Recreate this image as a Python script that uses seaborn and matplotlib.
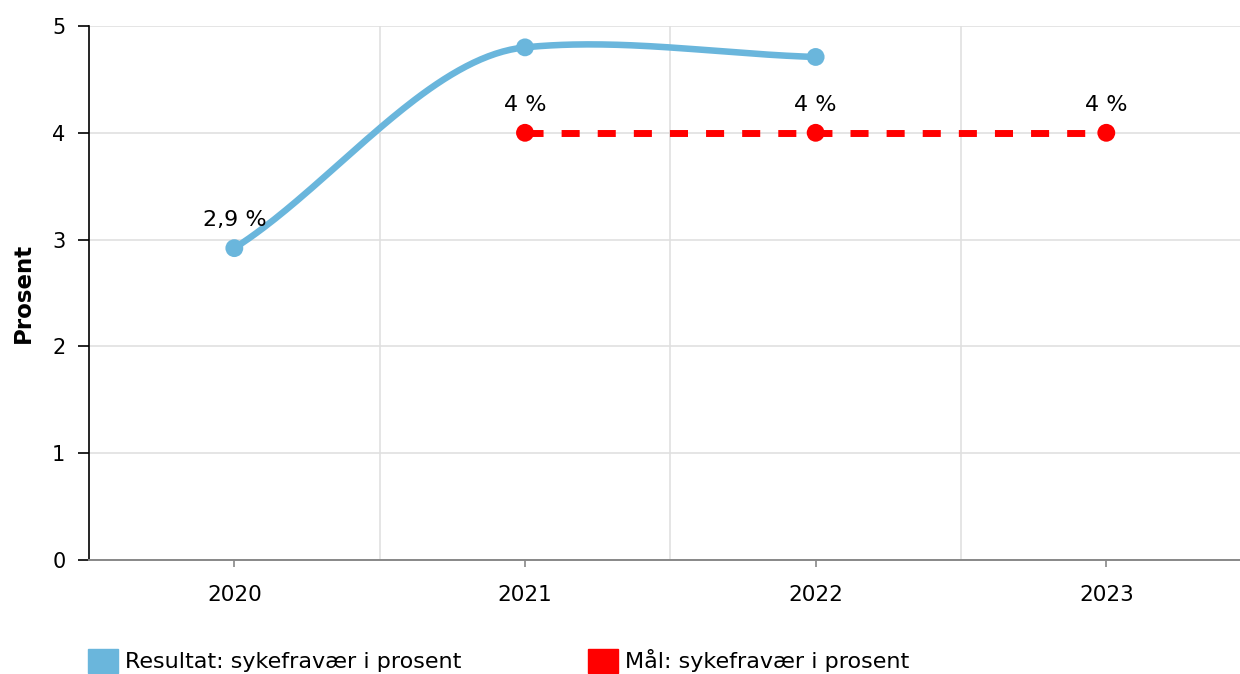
import numpy as np
import pandas as pd
import matplotlib
matplotlib.use("Agg")
import matplotlib.pyplot as plt
import seaborn as sns
from matplotlib.patches import Patch

# ---------------- data ----------------
years = ["2020", "2021", "2022", "2023"]
result_years = ["2020", "2021", "2022"]
result_values = [2.92, 4.80, 4.71]
result_labels = ["2,9 %", "", ""]
goal_years = ["2021", "2022", "2023"]
goal_values = [4.0, 4.0, 4.0]
goal_labels = ["4 %", "4 %", "4 %"]
y_ticks = [0, 1, 2, 3, 4, 5]
series_names = ["Resultat: sykefravær i prosent", "Mål: sykefravær i prosent"]
y_title = "Prosent"

BLUE = "#6ab6dc"
RED = "#ff0000"
GRID = "#e0e0e0"

sns.set_theme(style="white")
plt.rcParams["font.family"] = ["DejaVu Sans"]
plt.rcParams["text.color"] = "#000000"

W, H = 1240, 674
fig = plt.figure(figsize=(W / 100, H / 100), dpi=100)
ax = fig.add_axes([89 / W, 1 - 560 / H, 1 - 89 / W, (560 - 26) / H])

pos = {y: i for i, y in enumerate(years)}
rx = np.array([pos[y] for y in result_years], float)
ry = np.array(result_values, float)
gx = np.array([pos[y] for y in goal_years], float)
gy = np.array(goal_values, float)


def smooth_curve(x, y, tension=0.3, end_factor=0.92, n=80):
    """Cubic Hermite spline through the points (for drawing a smoothed line)."""
    m = np.zeros_like(y)
    m[1:-1] = tension * (y[2:] - y[:-2]) / (x[2:] - x[:-2])
    m[0] = end_factor * (y[1] - y[0]) / (x[1] - x[0])
    m[-1] = end_factor * (y[-1] - y[-2]) / (x[-1] - x[-2])
    xs, ys = [], []
    for i in range(len(x) - 1):
        h = x[i + 1] - x[i]
        t = np.linspace(0, 1, n)
        h00 = 2 * t**3 - 3 * t**2 + 1
        h10 = t**3 - 2 * t**2 + t
        h01 = -2 * t**3 + 3 * t**2
        h11 = t**3 - t**2
        xs.append(x[i] + t * h)
        ys.append(h00 * y[i] + h10 * h * m[i] + h01 * y[i + 1] + h11 * h * m[i + 1])
    return np.concatenate(xs), np.concatenate(ys)


cx, cy = smooth_curve(rx, ry)
curve = pd.DataFrame({"x": cx, "y": cy})
sns.lineplot(data=curve, x="x", y="y", sort=False, ax=ax, color=BLUE, lw=4.7,
             solid_capstyle="round", zorder=3)
sns.scatterplot(x=rx, y=ry, ax=ax, color=BLUE, s=165, edgecolor="none", zorder=4)

ax.plot(gx, gy, color=RED, lw=5, linestyle=(0, (2.6, 2.6)), zorder=3)
sns.scatterplot(x=gx, y=gy, ax=ax, color=RED, s=165, edgecolor="none", zorder=4)

for x, y, lab in zip(rx, ry, result_labels):
    if lab:
        ax.annotate(lab, (x, y), xytext=(0, 16), textcoords="offset points",
                    ha="center", va="baseline", fontsize=16, color="#000000")
for x, y, lab in zip(gx, gy, goal_labels):
    ax.annotate(lab, (x, y), xytext=(0, 16), textcoords="offset points",
                ha="center", va="baseline", fontsize=16, color="#000000")

# axes
ax.set_xlim(-0.5, 3.46)
ax.set_ylim(0, 5)
ax.set_yticks(y_ticks)
ax.set_yticklabels([str(v) for v in y_ticks])
ax.set_xticks(range(len(years)))
ax.set_xticklabels(years)
ax.set_xticks([0.5, 1.5, 2.5], minor=True)
ax.set_xlabel("")
ax.set_ylabel(y_title, fontsize=16.5, fontweight="bold", color="#000000")
ax.yaxis.set_label_coords((23 - 89) / (W - 89), 0.5)
ax.yaxis.label.set_va("center")

ax.grid(axis="y", which="major", color=GRID, lw=1.2)
ax.grid(axis="x", which="minor", color=GRID, lw=1.2)
ax.grid(axis="x", which="major", visible=False)
ax.set_axisbelow(True)

for s in ["top", "right"]:
    ax.spines[s].set_visible(False)
ax.spines["left"].set_color("#000000")
ax.spines["left"].set_linewidth(1.2)
ax.spines["bottom"].set_color("#888888")
ax.spines["bottom"].set_linewidth(1.4)

ax.tick_params(axis="y", which="major", left=True, length=8, width=1.2,
               color="#000000", pad=9, labelsize=15, labelcolor="#000000")
ax.tick_params(axis="x", which="major", bottom=True, length=5, width=1.2,
               color="#888888", pad=13, labelsize=15.5, labelcolor="#000000")
ax.tick_params(axis="x", which="minor", bottom=False, length=0)

# legends
common = dict(loc="center left", frameon=False, fontsize=16, handlelength=1.35,
              handleheight=1.35, handletextpad=0.3, borderpad=0, borderaxespad=0,
              labelcolor="#000000")
fig.legend(handles=[Patch(facecolor=BLUE, edgecolor=BLUE)], labels=[series_names[0]],
           bbox_to_anchor=(88 / W, 1 - 661 / H), **common)
fig.legend(handles=[Patch(facecolor=RED, edgecolor=RED)], labels=[series_names[1]],
           bbox_to_anchor=(588 / W, 1 - 661 / H), **common)

fig.savefig("out.png", dpi=100, facecolor="white")
